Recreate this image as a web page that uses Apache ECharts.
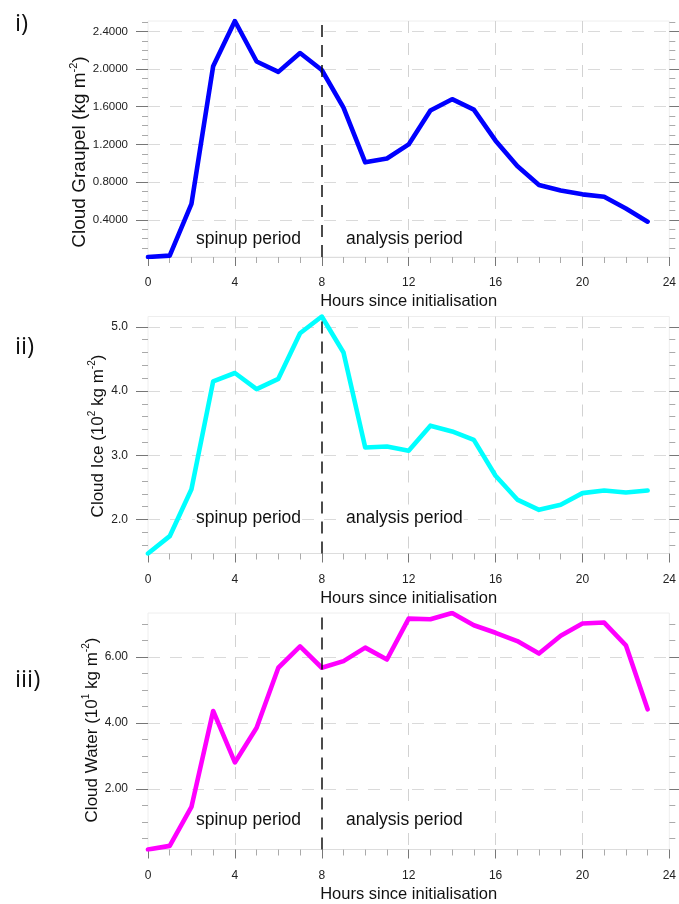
<!DOCTYPE html>
<html><head><meta charset="utf-8">
<script src="https://cdn.jsdelivr.net/npm/echarts@6/dist/echarts.min.js"></script>
<style>html,body{margin:0;padding:0;background:#fff}#c{width:679px;height:904px}</style>
</head><body><div id="c"></div>
<script>
// ---- data ----
const hours = [0,1,2,3,4,5,6,7,8,9,10,11,12,13,14,15,16,17,18,19,20,21,22,23];
const graupel = [0.005,0.02,0.57,2.03,2.51,2.08,1.97,2.17,1.99,1.59,1.01,1.05,1.20,1.56,1.68,1.57,1.24,0.97,0.77,0.71,0.67,0.645,0.52,0.38];
const ice = [1.47,1.74,2.47,4.15,4.28,4.03,4.19,4.90,5.16,4.60,3.12,3.135,3.07,3.46,3.37,3.24,2.68,2.31,2.15,2.23,2.41,2.45,2.42,2.45];
const water = [0.16,0.27,1.45,4.36,2.80,3.85,5.67,6.32,5.67,5.87,6.28,5.92,7.16,7.14,7.33,6.96,6.73,6.48,6.10,6.64,7.01,7.04,6.35,4.41];
const xTickLabels = [0,4,8,12,16,20,24];
const xGridLines = [4,12,16,20];
const graupelTicks = [0.4,0.8,1.2,1.6,2.0,2.4];
const iceTicks = [2,3,4,5];
const waterTicks = [2,4,6];
const spinupHour = 8;

const FONT = '"Liberation Sans", Arial, sans-serif';
const panels = [
  {data: graupel, color:'#0000ff', ticks: graupelTicks, step:0.1, dec:4, top:21, height:236, lblSize:11.5,
   title:'{n|Cloud Graupel (kg m}{s|-2}{n|)}', tSize:19, tx:80, ty:152, tag:'i)', tagY:24, textY:239},
  {data: ice, color:'#00ffff', ticks: iceTicks, step:0.2, dec:1, top:316.5, height:237, lblSize:12,
   title:'{n|Cloud Ice (10}{s|2}{n| kg m}{s|-2}{n|)}', tSize:17, tx:98, ty:436, tag:'ii)', tagY:347, textY:518},
  {data: water, color:'#ff00ff', ticks: waterTicks, step:0.5, dec:2, top:613, height:236.5, lblSize:12,
   title:'{n|Cloud Water (10}{s|1}{n| kg m}{s|-2}{n|)}', tSize:17, tx:92, ty:730, tag:'iii)', tagY:680, textY:820}
];

function minorValues(min, max, step, majors) {
  const out = [];
  const start = Math.ceil(min / step - 1e-9);
  for (let k = start; k * step <= max + 1e-9; k++) {
    const v = +(k * step).toFixed(6);
    if (!majors.some(m => Math.abs(m - v) < 1e-6)) out.push(v);
  }
  return out;
}

const grid = [], xAxis = [], yAxis = [], series = [], graphic = [];
panels.forEach((p, i) => {
  const min = Math.min(...p.data), max = Math.max(...p.data);
  const minors = minorValues(min, max, p.step, p.ticks);
  grid.push({left:148, width:526, top:p.top, height:p.height, show:true, borderColor:'#eeeeee', borderWidth:1});
  xAxis.push({
    gridIndex:i, type:'value', min:0, max:24, interval:4, position:'bottom',
    axisLine:{show:true, lineStyle:{color:'#dddddd', width:1}},
    axisTick:{show:true, length:9, lineStyle:{color:'#777'}},
    minorTick:{show:true, splitNumber:4, length:6, lineStyle:{color:'#aaa'}},
    axisLabel:{margin:20, fontSize:12, color:'#222', fontFamily:FONT},
    splitLine:{show:false},
    name:'Hours since initialisation', nameLocation:'middle', nameGap:36,
    nameTextStyle:{fontSize:16.5, color:'#111', fontFamily:FONT}
  });
  xAxis.push({
    gridIndex:i, type:'value', min:0, max:24, position:'top',
    axisLine:{show:false}, axisTick:{show:false, customValues:xGridLines},
    axisLabel:{show:false},
    splitLine:{show:true, lineStyle:{color:'#d2d2d2', width:1, type:[12,10]}}
  });
  const base = {gridIndex:i, type:'value', min:min, max:max, axisLine:{show:false}, splitLine:{show:false}, axisLabel:{show:false}};
  yAxis.push(Object.assign({}, base, {
    position:'left',
    axisTick:{show:true, length:12, customValues:p.ticks, lineStyle:{color:'#777'}},
    axisLabel:{show:true, customValues:p.ticks, formatter:v => (+v).toFixed(p.dec), margin:20,
               fontSize:p.lblSize, color:'#222', fontFamily:FONT},
    splitLine:{show:true, lineStyle:{color:'#dadada', width:1, type:[12,10]}}
  }));
  yAxis.push(Object.assign({}, base, {position:'left',
    axisTick:{show:true, length:6, customValues:minors, lineStyle:{color:'#aaa'}}}));
  yAxis.push(Object.assign({}, base, {position:'right',
    axisTick:{show:true, length:12, customValues:p.ticks, lineStyle:{color:'#777'}}}));
  yAxis.push(Object.assign({}, base, {position:'right',
    axisTick:{show:true, length:6, customValues:minors, lineStyle:{color:'#aaa'}}}));

  series.push({
    type:'line', xAxisIndex:2*i, yAxisIndex:4*i, data:[], z:1, silent:true,
    markLine:{silent:true, symbol:'none', animation:false, label:{show:false},
      lineStyle:{color:'#111', type:[12,8], width:1.5}, data:[{xAxis:spinupHour}]}
  });
  series.push({
    type:'line', xAxisIndex:2*i, yAxisIndex:4*i, z:3,
    data: hours.map((h, k) => [h, p.data[k]]),
    showSymbol:false, symbol:'none', smooth:false, animation:false,
    lineStyle:{width:4.6, color:p.color, cap:'round', join:'round'}, color:p.color
  });

  graphic.push({type:'text', x:15, y:p.tagY, style:{text:p.tag, font:'24px "Open Sans", sans-serif', fill:'#111', verticalAlign:'middle', align:'left'}});
  graphic.push({type:'text', x:p.tx, y:p.ty, rotation:Math.PI/2, style:{
    text:p.title, fill:'#111', align:'center', verticalAlign:'middle',
    rich:{n:{fontSize:p.tSize, fontFamily:FONT, fill:'#111', lineHeight:p.tSize+4},
          s:{fontSize:Math.round(p.tSize*0.6), fontFamily:FONT, fill:'#111', verticalAlign:'top', lineHeight:p.tSize+4}}
  }});
  graphic.push({type:'text', x:195, y:p.textY, z:2, style:{text:'spinup period', font:'17.5px ' + FONT, fill:'#111',
    verticalAlign:'middle', align:'left', backgroundColor:'#fff', padding:[0,1]}});
  graphic.push({type:'text', x:345, y:p.textY, z:2, style:{text:'analysis period', font:'17.5px ' + FONT, fill:'#111',
    verticalAlign:'middle', align:'left', backgroundColor:'#fff', padding:[0,1]}});
});

const chart = echarts.init(document.getElementById('c'));
chart.setOption({animation:false, backgroundColor:'#fff', grid, xAxis, yAxis, series, graphic});
</script></body></html>
